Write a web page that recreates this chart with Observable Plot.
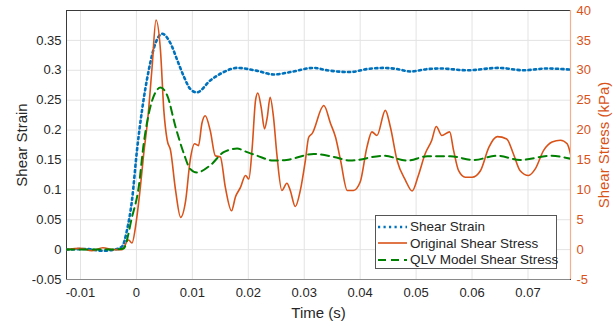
<!DOCTYPE html>
<html>
<head>
<meta charset="utf-8">
<script src="https://cdn.jsdelivr.net/npm/d3@7"></script>
<script src="https://cdn.jsdelivr.net/npm/@observablehq/plot@0.6"></script>
<style>
  html, body { margin: 0; padding: 0; background: #fff; }
  #wrap { position: relative; width: 613px; height: 324px; font-family: "Liberation Sans", Arial, sans-serif; }
  #wrap svg { position: absolute; left: 0; top: 0; }
  #wrap svg [aria-label$="axis label"] text { font-size: 15px; }
  #legend { position: absolute; left: 375px; top: 215px; width: 180px; height: 52px; border: 1px solid #555; background: #fff; font-size: 13.5px; color: #262626; }
  #legend .row { position: absolute; left: 0; height: 17px; display: flex; align-items: center; white-space: nowrap; }
  #legend svg { position: static; margin-left: 2px; margin-right: 3px; }
</style>
</head>
<body>
<div id="wrap"></div>
<script>
// ---- data ----
const strainT = [-0.0125, -0.009, -0.006, -0.0035, -0.0025, -0.0017, -0.0008, 0.0001, 0.001, 0.0022, 0.0034, 0.0046, 0.0061, 0.0073, 0.0085, 0.0096, 0.0108, 0.0132, 0.0156, 0.018, 0.0216, 0.0245, 0.0275, 0.0317, 0.0341, 0.0382, 0.0412, 0.0442, 0.0466, 0.049, 0.052, 0.0543, 0.0591, 0.0648, 0.0692, 0.0734, 0.0776];
const strainV = [0, 0.001, -0.002, 0.001, 0.006, 0.032, 0.082, 0.166, 0.233, 0.300, 0.345, 0.361, 0.345, 0.317, 0.289, 0.269, 0.263, 0.283, 0.297, 0.304, 0.299, 0.293, 0.297, 0.304, 0.300, 0.297, 0.302, 0.304, 0.302, 0.298, 0.302, 0.303, 0.300, 0.304, 0.300, 0.303, 0.301];

const origT = [-0.0125, -0.010, -0.008, -0.006, -0.004, -0.0026, -0.0014, -0.0008, 0, 0.0007, 0.0013, 0.002, 0.0028, 0.0035, 0.0043, 0.0049, 0.0055, 0.0061, 0.007, 0.0079, 0.0088, 0.0096, 0.0104, 0.0111, 0.0117, 0.0123, 0.0132, 0.0141, 0.015, 0.0159, 0.017, 0.0177, 0.0186, 0.0195, 0.0201, 0.0207, 0.0213, 0.0217, 0.0223, 0.0229, 0.0234, 0.0239, 0.0245, 0.0251, 0.026, 0.0269, 0.0275, 0.0284, 0.0293, 0.0302, 0.0308, 0.0314, 0.0335, 0.0347, 0.0356, 0.0365, 0.0377, 0.0388, 0.04, 0.0412, 0.0421, 0.043, 0.0445, 0.0454, 0.0466, 0.0481, 0.0493, 0.0504, 0.0516, 0.0528, 0.0536, 0.0546, 0.056, 0.0567, 0.0576, 0.0588, 0.06, 0.0615, 0.063, 0.0645, 0.0662, 0.0674, 0.0686, 0.0701, 0.0713, 0.0728, 0.0743, 0.0758, 0.077, 0.0776];
const origKPa = [0, 0.2, -0.2, 0.3, 0, 0, 1.6, 1.1, 4.9, 10.4, 16.0, 21.6, 30.5, 38.4, 33.3, 23.3, 18.3, 16.6, 9.9, 5.4, 8.2, 14.9, 17.7, 17.4, 21.1, 22.4, 19.9, 15.7, 15.5, 10.4, 6.5, 8.8, 10.4, 12.4, 11.8, 17.1, 25.0, 26.2, 23.8, 20.2, 22.2, 25.5, 22.2, 16.0, 9.9, 11.1, 9.9, 7.2, 9.9, 14.9, 18.8, 19.4, 24.1, 21.1, 18.8, 14.9, 9.9, 9.9, 11.3, 17.1, 19.7, 19.1, 23.3, 20.5, 14.9, 11.6, 9.8, 12.4, 16.0, 18.3, 20.6, 19.1, 19.7, 16.6, 13.2, 12.1, 12.1, 13.2, 17.1, 18.9, 18.5, 16.0, 13.2, 12.4, 13.5, 16.6, 18.0, 18.3, 17.7, 16.0];

const qlvT = [-0.0125, -0.008, -0.004, -0.0023, -0.0008, 0.0004, 0.0013, 0.0022, 0.0034, 0.0043, 0.0055, 0.007, 0.0085, 0.0096, 0.0108, 0.0132, 0.0156, 0.018, 0.0198, 0.0216, 0.0245, 0.0268, 0.0317, 0.0353, 0.0382, 0.0442, 0.0484, 0.052, 0.0561, 0.0603, 0.0645, 0.0686, 0.074, 0.0776];
const qlvKPa = [0, 0, 0, 0.2, 5.4, 10.4, 17.7, 22.7, 26.3, 27.1, 25.8, 20.5, 16.0, 13.5, 12.9, 14.1, 16.3, 16.9, 16.3, 15.7, 14.9, 15.0, 16.0, 15.5, 14.9, 15.7, 14.9, 15.6, 15.6, 15.0, 15.7, 15.0, 15.7, 15.2];

const timeTicks = [-0.01, 0, 0.01, 0.02, 0.03, 0.04, 0.05, 0.06, 0.07];
const strainTicks = [-0.05, 0, 0.05, 0.1, 0.15, 0.2, 0.25, 0.3, 0.35];
const stressTicks = [-5, 0, 5, 10, 15, 20, 25, 30, 35, 40];
const xDomain = [-0.0125, 0.0776];
const strainDomain = [-0.05, 0.4];
const kPaPerStrain = 100; // right axis = left axis × 100

const seriesNames = ["Shear Strain", "Original Shear Stress", "QLV Model Shear Stress"];
const colors = ["#0072BD", "#D95319", "#008000"];

// ---- build tables ----
const strain = strainT.map((t, i) => ({t, v: strainV[i]}));
const orig = origT.map((t, i) => ({t, v: origKPa[i] / kPaPerStrain}));
const qlv = qlvT.map((t, i) => ({t, v: qlvKPa[i] / kPaPerStrain}));

const textColor = "#262626";
const dotDash = "2.2,3.3";

const chart = Plot.plot({
  width: 613,
  height: 324,
  marginLeft: 66,
  marginRight: 43,
  marginTop: 10,
  marginBottom: 45,
  style: {fontFamily: "'Liberation Sans', Arial, sans-serif", fontSize: "13px", color: textColor, background: "transparent"},
  x: {domain: xDomain},
  y: {domain: strainDomain},
  marks: [
    Plot.gridX(timeTicks, {stroke: "#e3e3e3", strokeOpacity: 1}),
    Plot.gridY(strainTicks, {stroke: "#e3e3e3", strokeOpacity: 1}),
    Plot.frame({stroke: "#3a3a3a"}),
    Plot.ruleY([strainDomain[0]], {stroke: "#8a8a8a"}),
    Plot.ruleX([xDomain[1]], {stroke: "#F2B08F", strokeWidth: 1.2}),
    Plot.axisX({ticks: timeTicks, tickFormat: d => String(d), tickSize: 0, tickPadding: 8, label: "Time (s)", labelAnchor: "center", labelArrow: "none", labelOffset: 38, fill: textColor}),
    Plot.axisY({anchor: "left", ticks: strainTicks, tickFormat: d => String(d), tickSize: 0, tickPadding: 5, label: "Shear Strain", labelAnchor: "center", labelArrow: "none", labelOffset: 50, fill: textColor}),
    Plot.axisY({anchor: "right", ticks: stressTicks.map(k => k / kPaPerStrain), tickFormat: d => String(Math.round(d * kPaPerStrain)), tickSize: 0, tickPadding: 6, label: "Shear Stress (kPa)", labelAnchor: "center", labelArrow: "none", labelOffset: 38, fill: colors[1], color: colors[1]}),
    Plot.line(strain, {x: "t", y: "v", stroke: colors[0], strokeWidth: 2.6, strokeDasharray: dotDash, curve: "monotone-x", clip: true}),
    Plot.line(orig, {x: "t", y: "v", stroke: colors[1], strokeWidth: 1.6, curve: "monotone-x", clip: true}),
    Plot.line(qlv, {x: "t", y: "v", stroke: colors[2], strokeWidth: 2, strokeDasharray: "8,5", curve: "monotone-x", clip: true})
  ]
});

const wrap = document.getElementById("wrap");
wrap.appendChild(chart);

// legend overlay
const legend = document.createElement("div");
legend.id = "legend";
const dashes = [dotDash, null, "8,5"];
const widths = [2.6, 1.6, 2];
seriesNames.forEach((name, i) => {
  const row = document.createElement("div");
  row.className = "row";
  row.style.top = (2 + i * 16.5) + "px";
  const ns = "http://www.w3.org/2000/svg";
  const s = document.createElementNS(ns, "svg");
  s.setAttribute("width", 29); s.setAttribute("height", 10);
  const l = document.createElementNS(ns, "line");
  l.setAttribute("x1", 0); l.setAttribute("x2", 29); l.setAttribute("y1", 5); l.setAttribute("y2", 5);
  l.setAttribute("stroke", colors[i]); l.setAttribute("stroke-width", widths[i]);
  if (dashes[i]) l.setAttribute("stroke-dasharray", dashes[i]);
  s.appendChild(l);
  row.appendChild(s);
  const tx = document.createElement("span");
  tx.textContent = name;
  row.appendChild(tx);
  legend.appendChild(row);
});
wrap.appendChild(legend);
</script>
</body>
</html>
